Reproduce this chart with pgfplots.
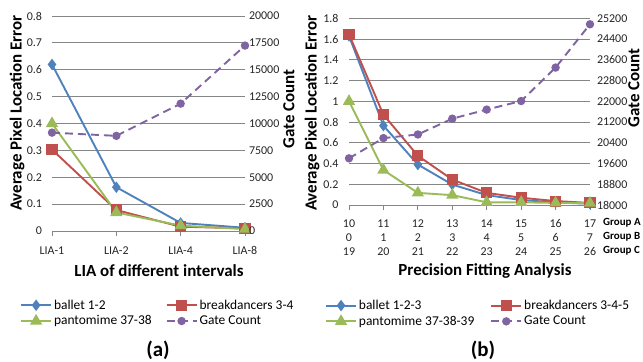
\documentclass[border=0pt]{standalone}
\usepackage{pgfplots}
\pgfplotsset{compat=1.18}
\usepackage{fontspec}
\setmainfont{Carlito}
\definecolor{cblue}{HTML}{4F81BD}
\definecolor{cred}{HTML}{C0504D}
\definecolor{cgreen}{HTML}{9BBB59}
\definecolor{cpurple}{HTML}{8064A2}
\definecolor{gridc}{HTML}{868686}
\newcommand\tf{\fontsize{12}{14}\selectfont}
\newcommand\legf{\fontsize{13.5}{15}\selectfont}
\newcommand\lf{\fontsize{17}{19}\selectfont\bfseries}
\pgfplotsset{
  common/.style={
    scale only axis,
    scaled y ticks=false,
    /pgf/number format/assume math mode=true,
    /pgf/number format/1000 sep={},
    tick label style={font=\tf, text=black!85},
    major tick length=5bp, tick align=outside,
    clip=false,
  },
  sBlue/.style={cblue, line width=1.9bp, mark=diamond*, mark size=4.2bp, mark options={solid, fill=cblue}},
  sRed/.style={cred, line width=1.9bp, mark=square*, mark size=4.6bp, mark options={solid, fill=cred}},
  sGreen/.style={cgreen, line width=1.9bp, mark=triangle*, mark size=5.2bp, mark options={solid, fill=cgreen}},
  sPurple/.style={cpurple, line width=1.9bp, dash pattern=on 8bp off 5bp, mark=*, mark size=3.2bp, mark options={solid, fill=cpurple}},
  leg/.style={
    legend columns=2,
    legend cell align=left,
    legend style={draw=none, fill=none, font=\legf, row sep=1bp, inner sep=0pt,
      /tikz/every even column/.append style={column sep=12bp}},
    legend image code/.code={\draw[mark repeat=2,mark phase=2,##1] plot coordinates {(0bp,0bp) (15bp,0bp) (30bp,0bp)};},
  },
}
\begin{document}
\begin{tikzpicture}
\useasboundingbox (0,0) rectangle (643bp,-362bp);
% ---------------- (a) -----------------
\begin{axis}[common,
  at={(52bp,-231bp)}, anchor=south west, width=193bp, height=215bp,
  xmin=0, xmax=3, ymin=0, ymax=0.8,
  xtick={0,1,2,3}, xticklabels={LIA-1,LIA-2,LIA-4,LIA-8},
  ytick={0,0.1,0.2,0.3,0.4,0.5,0.6,0.7,0.8},
  yticklabel style={xshift=-1.5bp},
  xticklabel style={yshift=-7bp},
  axis x line*=bottom, axis y line*=left,
  y axis line style={draw=none}, ytick style={draw=none},
  x axis line style={gridc, line width=0.8bp}, xtick style={gridc, line width=0.8bp},
  ymajorgrids, grid style={gridc, line width=0.8bp},
]
\addplot[sBlue] coordinates {(0,0.62) (1,0.163) (2,0.030) (3,0.012)};
\addplot[sRed] coordinates {(0,0.303) (1,0.078) (2,0.016) (3,0.010)};
\addplot[sGreen] coordinates {(0,0.400) (1,0.069) (2,0.020) (3,0.007)};
\end{axis}
\begin{axis}[common, leg,
  at={(52bp,-231bp)}, anchor=south west, width=193bp, height=215bp,
  xmin=0, xmax=3, ymin=0, ymax=20000,
  ytick={0,2500,5000,7500,10000,12500,15000,17500,20000},
  axis y line*=right, axis x line=none,
  y axis line style={draw=none}, ytick style={draw=none},
  yticklabel style={xshift=-4.5bp},
  legend style={at={(-0.166,-0.31)}, anchor=north west},
]
\addlegendimage{sBlue}\addlegendentry{ballet 1-2}
\addlegendimage{sRed}\addlegendentry{breakdancers 3-4}
\addlegendimage{sGreen}\addlegendentry{pantomime 37-38}
\addplot[sPurple] coordinates {(0,9150) (1,8850) (2,11850) (3,17250)};
\addlegendentry{Gate Count}
\end{axis}
\node[rotate=90, font=\lf] at (17bp,-113bp) {Average Pixel Location Error};
\node[rotate=90, font=\lf] at (289bp,-109bp) {Gate Count};
\node[font=\lf] at (159bp,-271bp) {LIA of different intervals};
\node[font=\fontsize{21}{23}\selectfont\bfseries] at (158bp,-350bp) {(a)};
% ---------------- (b) -----------------
\begin{axis}[common,
  at={(349bp,-205bp)}, anchor=south west, width=241bp, height=186.7bp,
  xmin=0, xmax=7, ymin=0, ymax=1.8,
  xtick={0,...,7},
  xticklabels={{10\\0\\19},{11\\1\\20},{12\\2\\21},{13\\3\\22},{14\\4\\23},{15\\5\\24},{16\\6\\25},{17\\7\\26}},
  xticklabel style={align=center, yshift=-6bp},
  ytick={0,0.2,0.4,0.6,0.8,1,1.2,1.4,1.6,1.8},
  yticklabel style={xshift=-2bp},
  axis x line*=bottom, axis y line*=left,
  y axis line style={draw=none}, ytick style={draw=none},
  x axis line style={gridc, line width=0.8bp}, xtick style={gridc, line width=0.8bp},
  ymajorgrids, grid style={gridc, line width=0.8bp},
]
\addplot[sBlue] coordinates {(0,1.630) (1,0.765) (2,0.390) (3,0.197) (4,0.095) (5,0.048) (6,0.025) (7,0.012)};
\addplot[sRed] coordinates {(0,1.645) (1,0.870) (2,0.475) (3,0.245) (4,0.117) (5,0.070) (6,0.038) (7,0.020)};
\addplot[sGreen] coordinates {(0,1.000) (1,0.337) (2,0.117) (3,0.095) (4,0.026) (5,0.026) (6,0.020) (7,0.018)};
\end{axis}
\begin{axis}[common, leg,
  at={(349bp,-205bp)}, anchor=south west, width=241bp, height=186.7bp,
  xmin=0, xmax=7, ymin=18000, ymax=25200,
  ytick={18000,18800,19600,20400,21200,22000,22800,23600,24400,25200},
  axis y line*=right, axis x line=none,
  y axis line style={draw=none}, ytick style={draw=none},
  yticklabel style={xshift=-1.5bp},
  legend style={at={(-0.1,-0.498)}, anchor=north west,
    /tikz/every even column/.append style={column sep=14bp}},
]
\addlegendimage{sBlue}\addlegendentry{ballet 1-2-3}
\addlegendimage{sRed}\addlegendentry{breakdancers 3-4-5}
\addlegendimage{sGreen}\addlegendentry{pantomime 37-38-39}
\addplot[sPurple] coordinates {(0,19800) (1,20580) (2,20720) (3,21330) (4,21680) (5,22010) (6,23300) (7,24970)};
\addlegendentry{Gate Count}
\end{axis}
\node[rotate=90, font=\lf, inner sep=0pt] at (634bp,-88bp) {Gate Count};
\node[rotate=90, font=\lf] at (312bp,-113bp) {Average Pixel Location Error};
\node[font=\fontsize{11}{13}\selectfont\bfseries, anchor=west, inner sep=0pt] at (603bp,-223bp) {Group A};
\node[font=\fontsize{11}{13}\selectfont\bfseries, anchor=west, inner sep=0pt] at (603bp,-237bp) {Group B};
\node[font=\fontsize{11}{13}\selectfont\bfseries, anchor=west, inner sep=0pt] at (603bp,-251bp) {Group C};
\node[font=\lf] at (485bp,-271bp) {Precision Fitting Analysis};
\node[font=\fontsize{21}{23}\selectfont\bfseries] at (483bp,-350bp) {(b)};
\end{tikzpicture}
\end{document}
